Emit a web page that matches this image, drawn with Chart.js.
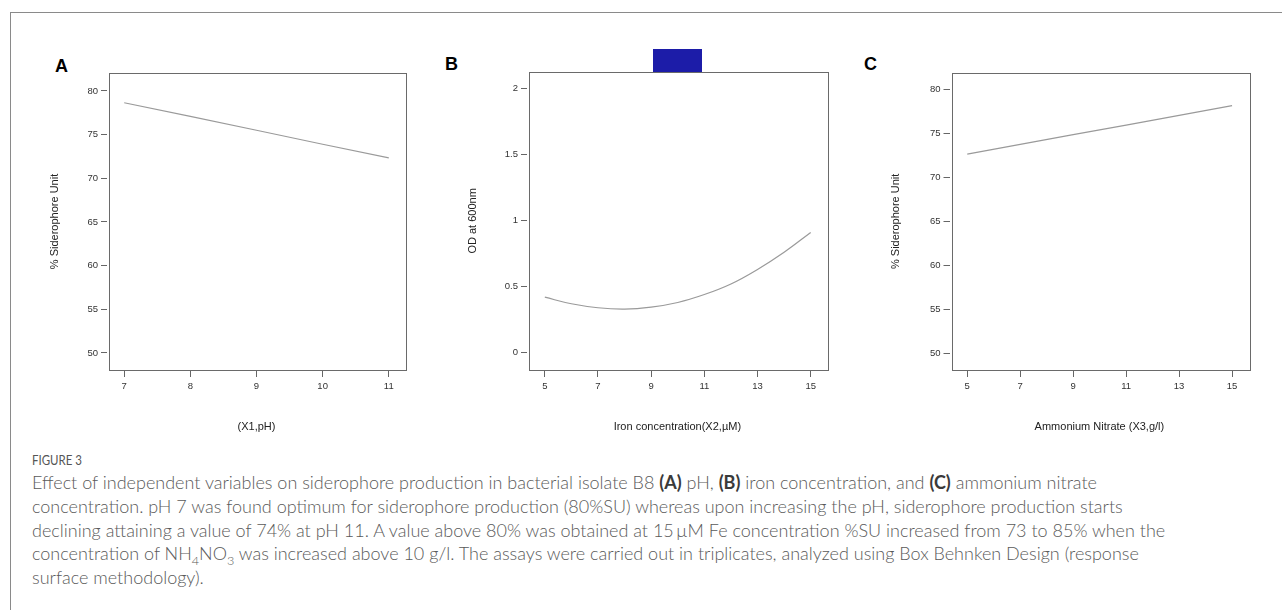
<!DOCTYPE html>
<html>
<head>
<meta charset="utf-8">
<script src="https://cdn.jsdelivr.net/npm/chart.js@4.4.0/dist/chart.umd.min.js"></script>
<style>
  html, body { margin: 0; padding: 0; background: #fff; }
  body { width: 1282px; height: 610px; position: relative; overflow: hidden; font-family: "Liberation Sans", Arial, sans-serif; }
  .frame { position: absolute; left: 10px; top: 12px; width: 1300px; height: 620px; border-top: 1px solid #8a8a8a; border-left: 1px solid #8a8a8a; }
  canvas { position: absolute; }
  .tag { position: absolute; font: bold 18px "Liberation Sans", Arial, sans-serif; line-height: 18px; color: #000; }
  .censor { position: absolute; left: 653px; top: 49px; width: 49px; height: 23px; background: #1c1ca8; }
  .figno { position: absolute; left: 32px; top: 451px; font: 14px Lato, "Open Sans", sans-serif; line-height: 18px; color: #555; transform: scaleX(0.82); transform-origin: 0 0; }
  .caption { position: absolute; left: 32px; top: 471px; width: 1240px; font: 300 18px Lato, "Open Sans", sans-serif; line-height: 23.8px; color: #5a5a5a; white-space: nowrap; }
  .caption b { color: #3a3a3a; font-weight: 700; }
  sub { font-size: 0.7em; line-height: 0; }
</style>
</head>
<body>
<div class="frame"></div>
<div class="tag" style="left:55px;top:57px">A</div>
<div class="tag" style="left:445px;top:55px">B</div>
<div class="tag" style="left:864px;top:55px">C</div>

<canvas id="chartA" width="380" height="395" style="left:40px;top:50px"></canvas>
<canvas id="chartB" width="382" height="395" style="left:458px;top:50px"></canvas>
<canvas id="chartC" width="384" height="395" style="left:881px;top:50px"></canvas>
<div class="censor"></div>

<div class="figno">FIGURE 3</div>
<div class="caption">Effect of independent variables on siderophore production in bacterial isolate B8 <b>(A)</b> pH, <b>(B)</b> iron concentration, and <b>(C)</b> ammonium nitrate<br>concentration. pH 7 was found optimum for siderophore production (80%SU) whereas upon increasing the pH, siderophore production starts<br>declining attaining a value of 74% at pH 11. A value above 80% was obtained at 15&thinsp;&micro;M Fe concentration %SU increased from 73 to 85% when the<br>concentration of NH<sub>4</sub>NO<sub>3</sub> was increased above 10 g/l. The assays were carried out in triplicates, analyzed using Box Behnken Design (response<br>surface methodology).</div>

<script>
// panel A: pH
const phLevels = [7, 8, 9, 10, 11];
const suByPh = [78.65, 77.1, 75.5, 73.9, 72.35];
const phTicks = [7, 8, 9, 10, 11];
const suTicks = [50, 55, 60, 65, 70, 75, 80];

// panel B: iron concentration
const ironLevels = [5, 6, 7, 8, 9, 10, 11, 12, 13, 14, 15];
const odByIron = [0.42, 0.37, 0.34, 0.33, 0.345, 0.38, 0.44, 0.52, 0.63, 0.76, 0.91];
const ironTicks = [5, 7, 9, 11, 13, 15];
const odTicks = [0, 0.5, 1, 1.5, 2];

// panel C: ammonium nitrate
const nitrateLevels = [5, 7, 9, 11, 13, 15];
const suByNitrate = [72.65, 73.75, 74.85, 75.95, 77.05, 78.15];
const nitrateTicks = [5, 7, 9, 11, 13, 15];

const FONT = '"Liberation Sans", Arial, sans-serif';

// box around the plot area, drawn a little right of the y ticks
const frameBox = {
    id: 'frameBox',
    afterDraw(chart) {
        const { ctx, chartArea: a } = chart;
        ctx.save();
        ctx.strokeStyle = '#6a6a6a';
        ctx.lineWidth = 1;
        ctx.strokeRect(Math.round(a.left) + 2.5, Math.round(a.top) + 0.5,
            Math.round(a.right - a.left) - 2, Math.round(a.bottom - a.top));
        ctx.restore();
    }
};

function makePanel(id, xs, ys, opt) {
    const ctx = document.getElementById(id).getContext('2d');
    return new Chart(ctx, {
        type: 'line',
        data: {
            datasets: [{
                data: xs.map((x, i) => ({ x: x, y: ys[i] })),
                borderColor: '#9a9a9a',
                borderWidth: 1.2,
                pointRadius: 0,
                tension: opt.tension || 0,
                fill: false
            }]
        },
        options: {
            responsive: false,
            animation: false,
            devicePixelRatio: 1,
            layout: { padding: { top: opt.padTop, right: opt.padRight, left: 0, bottom: 0 } },
            plugins: { legend: { display: false }, tooltip: { enabled: false } },
            scales: {
                x: {
                    type: 'linear',
                    min: opt.xMin,
                    max: opt.xMax,
                    afterBuildTicks: s => { s.ticks = opt.xTicks.map(v => ({ value: v })); },
                    afterFit: s => { s.height = opt.xAxisH; },
                    ticks: { color: '#333', font: { family: FONT, size: 9.5 }, padding: 4, maxRotation: 0, autoSkip: false, callback: v => String(v) },
                    grid: { drawOnChartArea: false, drawTicks: true, tickLength: 7, color: '#666' },
                    border: { display: false },
                    title: { display: true, text: opt.xTitle, color: '#222', font: { family: FONT, size: 11 }, padding: { top: 0, bottom: 11.7 } }
                },
                y: {
                    type: 'linear',
                    min: opt.yMin,
                    max: opt.yMax,
                    afterBuildTicks: s => { s.ticks = opt.yTicks.map(v => ({ value: v })); },
                    afterFit: s => { s.width = opt.yAxisW; },
                    ticks: { color: '#333', font: { family: FONT, size: 9.5 }, padding: 3, autoSkip: false, callback: v => String(v) },
                    grid: { drawOnChartArea: false, drawTicks: true, tickLength: 6, color: '#666' },
                    border: { display: false },
                    title: { display: true, text: opt.yTitle, color: '#222', font: { family: FONT, size: 11 }, padding: { top: 8.4, bottom: 0 } }
                }
            }
        },
        plugins: [frameBox]
    });
}

makePanel('chartA', phLevels, suByPh, {
    xMin: 6.74, xMax: 11.26, yMin: 48.05, yMax: 82.06,
    xTicks: phTicks, yTicks: suTicks,
    xTitle: '(X1,pH)', yTitle: '% Siderophore Unit',
    padTop: 23, padRight: 14, yAxisW: 67, xAxisH: 75
});

makePanel('chartB', ironLevels, odByIron, {
    xMin: 4.33, xMax: 15.64, yMin: -0.131, yMax: 2.126,
    xTicks: ironTicks, yTicks: odTicks,
    xTitle: 'Iron concentration(X2,\u00b5M)', yTitle: 'OD at 600nm',
    padTop: 21.7, padRight: 12.3, yAxisW: 69, xAxisH: 75, tension: 0.4
});

makePanel('chartC', nitrateLevels, suByNitrate, {
    xMin: 4.33, xMax: 15.65, yMin: 48.1, yMax: 81.9,
    xTicks: nitrateTicks, yTicks: suTicks,
    xTitle: 'Ammonium Nitrate (X3,g/l)', yTitle: '% Siderophore Unit',
    padTop: 22.7, padRight: 15.7, yAxisW: 68.5, xAxisH: 75
});
</script>
</body>
</html>
